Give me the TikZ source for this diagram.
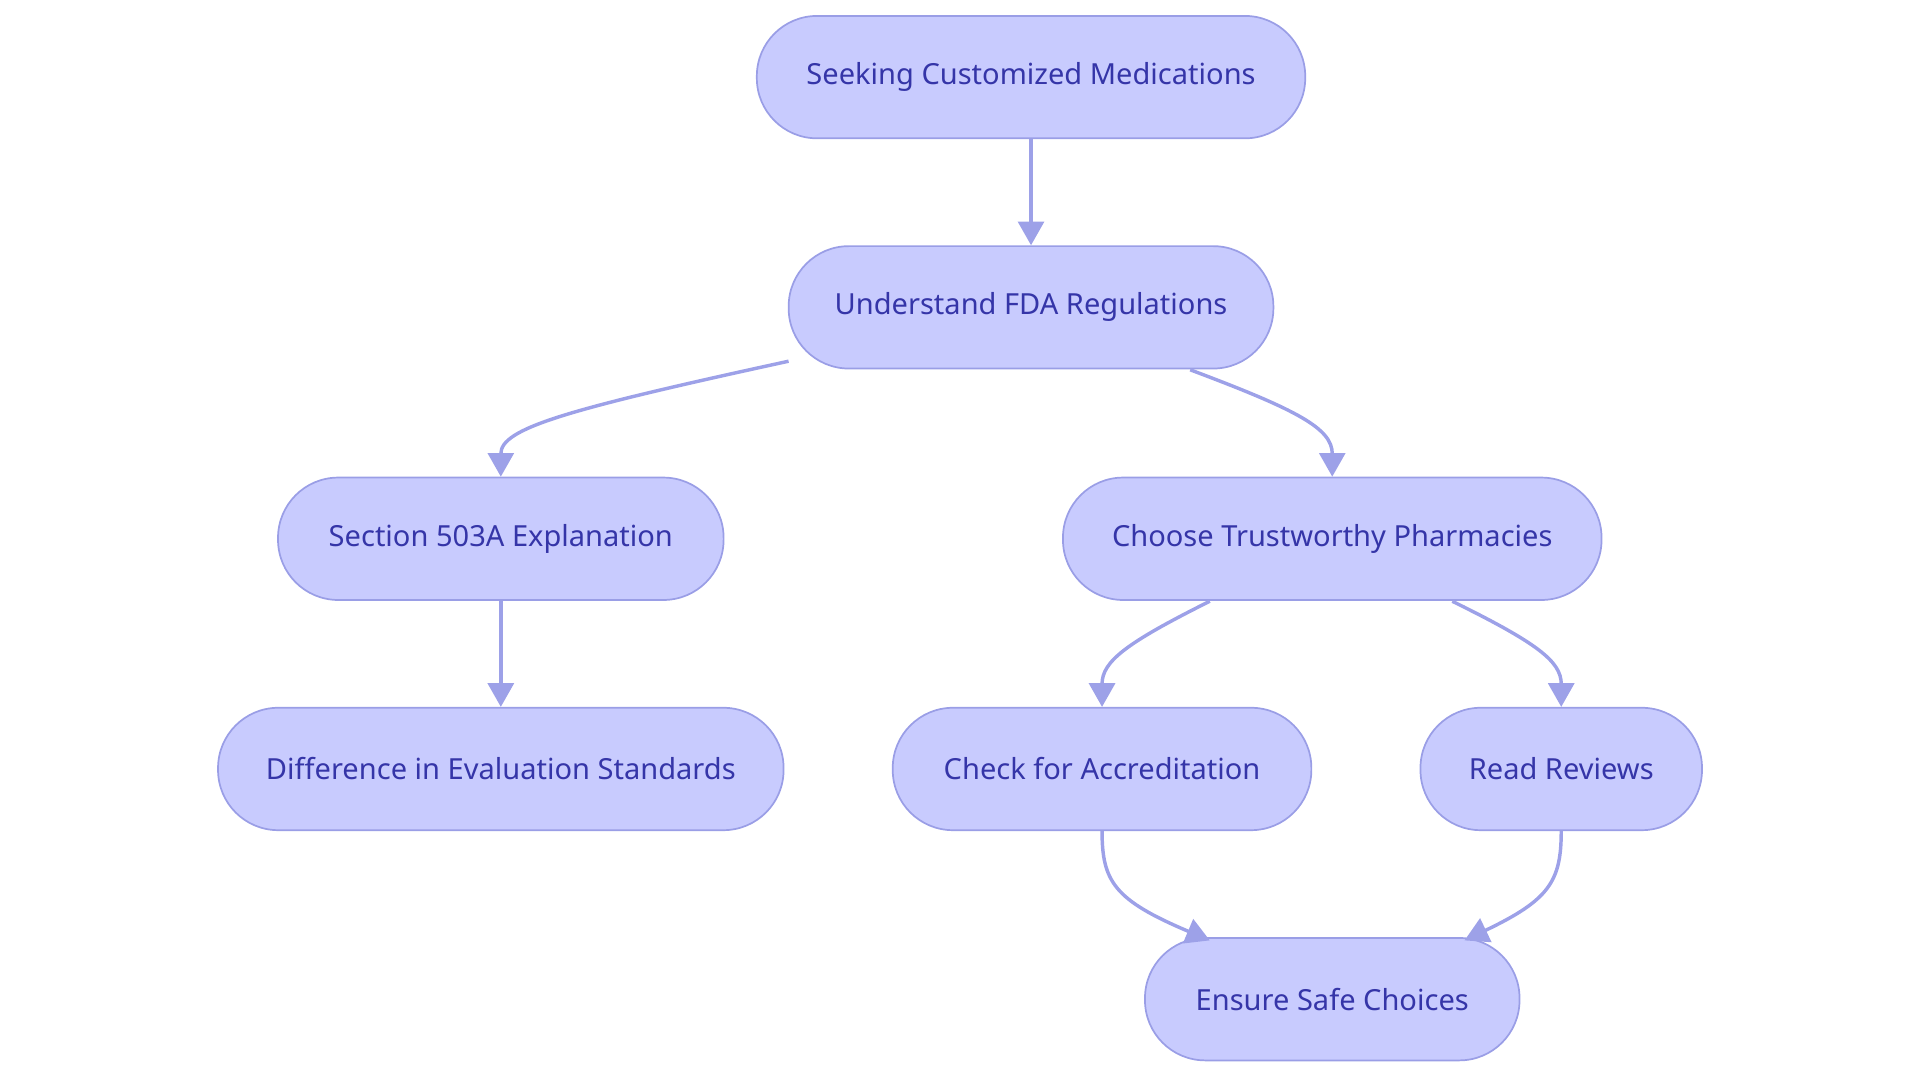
\documentclass[tikz,border=0pt]{standalone}
\usepackage{fontspec}
\setmainfont{Noto Sans}
\usetikzlibrary{arrows.meta,calc}
\definecolor{nfill}{HTML}{C8CBFE}
\definecolor{nline}{HTML}{9A9EE6}
\definecolor{ntext}{HTML}{3535A8}
\definecolor{eline}{HTML}{9DA1E8}
\tikzset{
 box/.style={draw=nline,line width=0.8pt,fill=nfill,rounded corners=28pt,minimum height=56.9pt,text=ntext,font=\fontsize{13.5}{16}\selectfont,inner sep=0pt},
 conn/.style={draw=eline,line width=1.6pt,-{Triangle[length=11pt,width=12pt]}}
}
\begin{document}
\begin{tikzpicture}[x=0.02cm,y=-0.02cm]
\useasboundingbox (0,0) rectangle (1568,884);
\node[box,minimum width=448*0.569pt] (A) at (842,63) {Seeking Customized Medications};
\node[box,minimum width=396*0.569pt] (B) at (842,251) {Understand FDA Regulations};
\node[box,minimum width=364*0.569pt] (C) at (409,440) {Section 503A Explanation};
\node[box,minimum width=440*0.569pt] (D) at (1088,440) {Choose Trustworthy Pharmacies};
\node[box,minimum width=462*0.569pt] (E) at (409,628) {Difference in Evaluation Standards};
\node[box,minimum width=342*0.569pt] (F) at (900,628) {Check for Accreditation};
\node[box,minimum width=230*0.569pt] (G) at (1275,628) {Read Reviews};
\node[box,minimum width=306*0.569pt] (H) at (1088,816) {Ensure Safe Choices};
\draw[conn] (A) -- (B);
\draw[conn] (C) -- (E);
\coordinate (b1) at (644,295);
\coordinate (b2) at (972,302);
\draw[conn] (b1) .. controls (460,335) and (409,350) .. (C.north);
\draw[conn] (b2) .. controls (1060,335) and (1088,350) .. (D.north);
\coordinate (d1) at (988,491);
\coordinate (d2) at (1186,491);
\draw[conn] (d1) .. controls (920,525) and (900,540) .. (F.north);
\draw[conn] (d2) .. controls (1255,525) and (1275,540) .. (G.north);
\coordinate (h1) at (988,768);
\coordinate (h2) at (1196,768);
\draw[conn] (F.south) .. controls (900,720) and (910,735) .. (h1);
\draw[conn] (G.south) .. controls (1275,720) and (1265,735) .. (h2);
\end{tikzpicture}
\end{document}
